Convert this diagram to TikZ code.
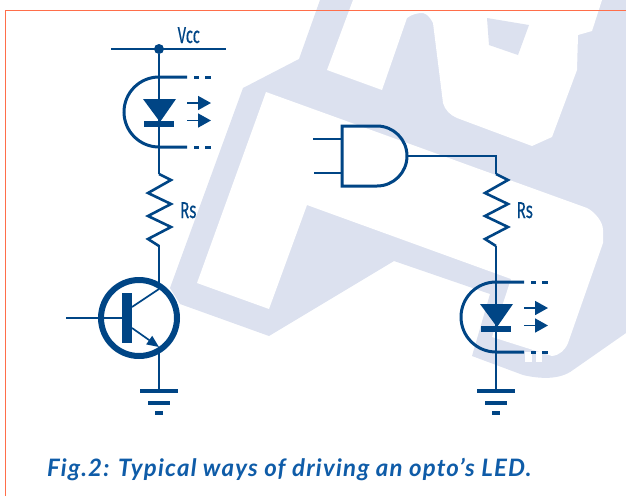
\documentclass[tikz,border=0pt]{standalone}
\usepackage{fontspec}
\setmainfont[FakeBold=0.4]{Fira Sans}
\newfontfamily\capfont[LetterSpace=5]{Lato}
\usetikzlibrary{arrows.meta}
\definecolor{cbl}{HTML}{004585}
\definecolor{cbg}{HTML}{DCE1EF}
\definecolor{ccap}{HTML}{0F5CA8}
\definecolor{cfr}{HTML}{FF6E4A}
\tikzset{
  x=1pt,y=-1pt,
  wire/.style={draw=cbl,line width=1.7pt},
  zigzag/.style={draw=cbl,line width=2.6pt,line join=miter},
  leadline/.style={draw=cbl,line width=3pt},
  label text/.style={text=cbl,inner sep=0pt,font=\fontsize{23}{23}\selectfont,xscale=0.66,anchor=base west},
  emission/.style={draw=cbl,line width=1.7pt,-{Triangle[length=13pt,width=14pt]}},
  pics/ledsym/.style={code={
    \draw[leadline] (28,-35) -- (0,-35) arc[start angle=-90,end angle=-270,radius=35] -- (28,35);
    \fill[cbl] (-16,-13) -- (17,-13) -- (1,10) -- cycle;
    \fill[cbl] (-15,9) rectangle (15,15);
    \fill[cbl] (35,-36.5) rectangle (40,-33.5);
    \fill[cbl] (46,-36.5) rectangle (52,-33.5);
    \fill[cbl] (35,33.5) rectangle (40,36.5);
    \fill[cbl] (46,33.5) rectangle (52,36.5);
    \draw[emission] (28,-9) -- (52,-9);
    \draw[emission] (28,8.5) -- (52,8.5);
  }},
  pics/groundsym/.style={code={
    \fill[cbl] (-19,-2) rectangle (19,2);
    \fill[cbl] (-11,10) rectangle (11,14);
    \fill[cbl] (-4,20) rectangle (4,24);
  }},
  pics/ressym/.style={code={
    \draw[zigzag] (0,0) -- (12,6) -- (-11,19) -- (12,30) -- (-11,42) -- (12,53) -- (-11,65) -- (0,72);
  }}
}
\begin{document}
\begin{tikzpicture}
\useasboundingbox (0,0) rectangle (626,496);
% background logo
\fill[cbg] (320,0) -- (299,59) -- (243,88) -- (170,288) -- (180,304) -- (269,336) -- (394,261) -- (490,294) -- (472,356) -- (523,375) .. controls (540,379) and (560,380) .. (573,370) -- (626,333) -- (626,0) -- cycle;
\fill[white] (266,92) -- (587,208) .. controls (595,212) and (603,222) .. (603,230) -- (603,243) -- (568,343) .. controls (565,350) and (560,355) .. (552,356) -- (492,337) -- (511,279) -- (307,205) -- (269,309) -- (197,283) -- cycle;
\fill[white] (353,0) -- (327,70) -- (382,90) -- (407,18) .. controls (412,14) and (418,13) .. (423,13) .. controls (427,14) and (430,17) .. (433,23) -- (443,103) .. controls (445,110) and (450,115) .. (457,118) -- (532,146) -- (552,137) -- (577,70) -- (578,35) -- (592,31) -- (602,0) -- cycle;
\fill[cbg] (487,18) -- (529,25) -- (518,55) -- (489,45) -- cycle;
\fill[white] (525,352) rectangle (532,362);
\fill[white] (536,352) rectangle (542,362);
% frame
\draw[cfr,line width=1.2pt] (5.5,496) -- (5.5,10.5) -- (626,10.5);

% coordinates
\coordinate (railL) at (111,49);
\coordinate (railR) at (226,49);
\coordinate (vcc) at (159,49);
\coordinate (r1top) at (159,174);
\coordinate (r1bot) at (159,245);
\coordinate (tcol) at (159,289);
\coordinate (tem) at (159,347);
\coordinate (g1) at (159,391);
\coordinate (bstart) at (66,318);
\coordinate (bbar) at (123,318);
\coordinate (in1) at (313,139);
\coordinate (in2) at (314,173);
\coordinate (r2top) at (496,174);
\coordinate (corner) at (496,156);
\coordinate (r2bot) at (496,246);
\coordinate (g2) at (496,391);

% left circuit
\draw[wire] (railL) -- (railR);
\node[circle,fill=cbl,minimum size=10pt,inner sep=0pt] (dot) at (vcc) {};
\draw[wire,line width=2pt] (dot) -- (r1top);
\draw[wire] (r1bot) -- (tcol) (tem) -- (g1);
\pic at (159,112) {ledsym};
\pic at (r1top) {ressym};
\node[label text] (vcclab) at (177.5,43) {Vcc};
\node[label text] (rs1) at (180,218) {Rs};
% transistor
\draw[cbl,line width=6pt] (139,318) circle[radius=38];
\fill[cbl] (122,293) rectangle (132,343);
\draw[wire] (bstart) -- (bbar);
\draw[wire] (132,307) -- (tcol);
\draw[draw=cbl,line width=1.7pt,-{Triangle[length=12pt,width=10pt]}] (132,328) -- (tem);
\pic at (g1) {groundsym};

% right circuit
\draw[leadline] (377,126) -- (342,126) -- (342,186) -- (377,186) arc[start angle=90,end angle=-90,radius=30] -- cycle;
\coordinate (gout) at (407,156);
\draw[wire] (in1) -- (342,139);
\draw[wire] (in2) -- (342,173);
\draw[wire] (gout) -- (corner) -- (r2top);
\pic at (r2top) {ressym};
\draw[wire,line width=2pt] (r2bot) -- (g2);
\pic at (496,317) {ledsym};
\node[label text] (rs2) at (516.5,218) {Rs};
\pic at (g2) {groundsym};

% caption
\node[text=ccap,inner sep=0pt,anchor=base west,font=\capfont\bfseries\itshape\fontsize{24}{24}\selectfont] (cap) at (47,476) {Fig.2: Typical ways of driving an opto’s LED.};
\end{tikzpicture}
\end{document}
